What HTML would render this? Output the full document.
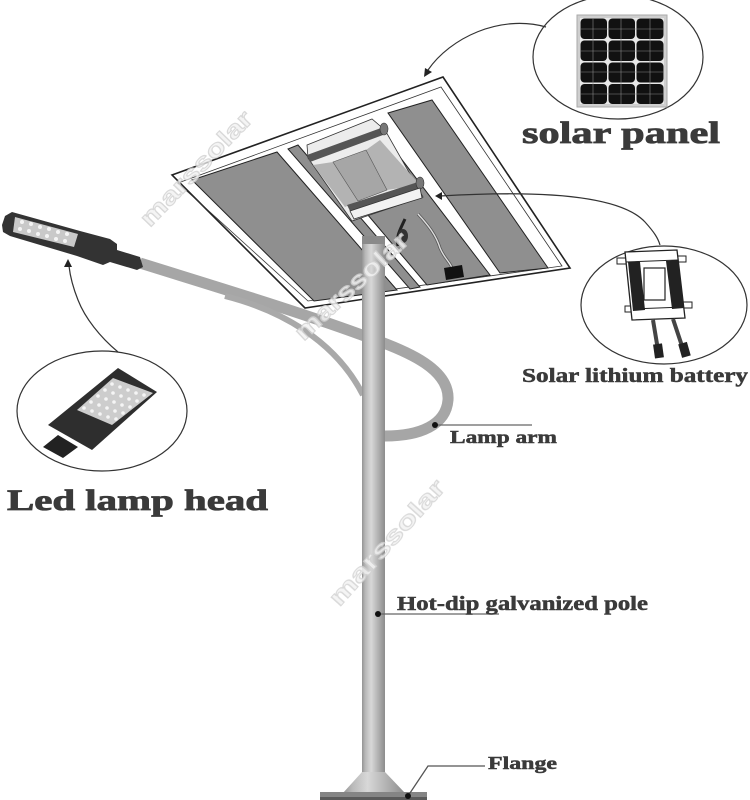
<!DOCTYPE html>
<html><head><meta charset="utf-8"><style>
html,body{margin:0;padding:0;background:#fff;}
svg{display:block;}
text{font-family:"Liberation Serif",serif;font-weight:bold;fill:#3a3a3a;}
.wm{font-family:"Liberation Sans",sans-serif;font-weight:bold;fill:#f3f3f3;stroke:#d2d2d2;stroke-width:1.1;}
</style></head><body>
<svg width="750" height="800" viewBox="0 0 750 800" xmlns="http://www.w3.org/2000/svg">
<defs>
<linearGradient id="pole" x1="0" x2="1" y1="0" y2="0">
<stop offset="0" stop-color="#949494"/><stop offset="0.15" stop-color="#b9b9b9"/>
<stop offset="0.4" stop-color="#d8d8d8"/><stop offset="0.7" stop-color="#b2b2b2"/>
<stop offset="1" stop-color="#8c8c8c"/></linearGradient>
</defs>

<!-- Solar panel -->
<polygon points="172,175 443,77 570,268 305,308" fill="#fff" stroke="#222" stroke-width="1.6"/>
<polygon points="178,183 441,87 562,266 308,301" fill="none" stroke="#333" stroke-width="0.8"/>
<polygon points="192,180 277,152 397,290 314,301" fill="#8f8f8f" stroke="#222" stroke-width="1"/>
<polygon points="288,149 298,145 420,287 410,289" fill="#8f8f8f" stroke="#222" stroke-width="1"/>
<polygon points="313,150 377,127 490,275 427,285" fill="#8f8f8f" stroke="#222" stroke-width="1"/>
<polygon points="388,113 432,100 548,268 500,273" fill="#8f8f8f" stroke="#222" stroke-width="1"/>

<!-- controller -->
<polygon points="307,145 372,119 385,130 423,197 352,221 308,158" fill="#ececec" stroke="#333" stroke-width="0.8"/>
<polygon points="313,165 333,162 358,201 345,207" fill="#b3b3b3"/>
<polygon points="366,150 380,140 420,185 387,190" fill="#b3b3b3"/>
<polygon points="333,162 366,150 387,190 358,201" fill="#a6a6a6" stroke="#555" stroke-width="0.6"/>
<polygon points="307,155 381,128 383,135 310,162" fill="#555"/>
<ellipse cx="384" cy="129" rx="4" ry="6" fill="#777" stroke="#333" stroke-width="0.6"/>
<polygon points="347,205 418,182 420,188 350,211" fill="#555"/>
<ellipse cx="420" cy="183" rx="4" ry="6" fill="#777" stroke="#333" stroke-width="0.6"/>
<polygon points="350,211 420,188 422,198 354,219" fill="#f2f2f2" stroke="#333" stroke-width="0.8"/>
<path d="M405,219 C400,230 396,236 398,246" stroke="#222" stroke-width="3" fill="none"/>
<ellipse cx="403" cy="236" rx="5" ry="7" fill="#333"/>
<path d="M418,214 C428,225 436,235 440,248 C444,258 450,262 452,268" stroke="#555" stroke-width="3" fill="none"/>
<path d="M418,214 C428,225 436,235 440,248 C444,258 450,262 452,268" stroke="#ddd" stroke-width="1.4" fill="none"/>
<polygon points="444,268 462,265 464,277 446,280" fill="#111"/>

<!-- arms -->
<path d="M140,263 C220,288 300,312 370,338 C410,352 450,370 448,400 C446,425 420,436 385,436" stroke="#a6a6a6" stroke-width="11" fill="none"/>
<path d="M225,296 C280,310 335,340 363,395" stroke="#a9a9a9" stroke-width="6" fill="none"/>

<!-- lamp head -->
<polygon points="2,225 5,216 12,212 80,231 110,239 117,244 117,250 140,257 143,267 137,270 110,262 103,265 77,256 10,236 3,232" fill="#333"/>
<polygon points="15,217 78,234 74,247 13,232" fill="#c9c9c9"/>
<g fill="#f4f4f4">
<circle cx="22" cy="222" r="2"/><circle cx="31" cy="224" r="2"/><circle cx="40" cy="227" r="2"/><circle cx="49" cy="229" r="2"/><circle cx="58" cy="232" r="2"/><circle cx="67" cy="234" r="2"/>
<circle cx="20" cy="229" r="2"/><circle cx="29" cy="231" r="2"/><circle cx="38" cy="234" r="2"/><circle cx="47" cy="236" r="2"/><circle cx="56" cy="239" r="2"/><circle cx="65" cy="241" r="2"/>
</g>

<!-- pole -->
<rect x="362" y="236" width="23" height="558" fill="url(#pole)"/>
<rect x="362" y="236" width="23" height="8" fill="#8a8a8a"/>
<polygon points="343,793 362,772 385,772 405,793" fill="url(#pole)"/>
<rect x="320" y="792" width="107" height="8" fill="#858585"/>
<rect x="320" y="797" width="107" height="3" fill="#5a5a5a"/>

<!-- Solar panel inset -->
<ellipse cx="618" cy="57" rx="85" ry="62" fill="#fff" stroke="#333" stroke-width="1.2"/>
<rect x="577" y="15" width="90" height="92" fill="#cfcfcf" stroke="#aaa" stroke-width="1"/>
<rect x="580" y="18" width="84" height="86" fill="#e8e8e8"/>
<g fill="#111">
<rect x="580.5" y="18.5" width="26.5" height="20.5" rx="4"/><rect x="608.5" y="18.5" width="26.5" height="20.5" rx="4"/><rect x="636.5" y="18.5" width="27" height="20.5" rx="4"/>
<rect x="580.5" y="40.5" width="26.5" height="20.5" rx="4"/><rect x="608.5" y="40.5" width="26.5" height="20.5" rx="4"/><rect x="636.5" y="40.5" width="27" height="20.5" rx="4"/>
<rect x="580.5" y="62.5" width="26.5" height="20" rx="4"/><rect x="608.5" y="62.5" width="26.5" height="20" rx="4"/><rect x="636.5" y="62.5" width="27" height="20" rx="4"/>
<rect x="580.5" y="84" width="26.5" height="20" rx="4"/><rect x="608.5" y="84" width="26.5" height="20" rx="4"/><rect x="636.5" y="84" width="27" height="20" rx="4"/>
</g>
<g stroke="#888" stroke-width="0.6">
<line x1="593" y1="18" x2="593" y2="104"/><line x1="621" y1="18" x2="621" y2="104"/><line x1="650" y1="18" x2="650" y2="104"/>
<line x1="580" y1="29" x2="664" y2="29"/><line x1="580" y1="51" x2="664" y2="51"/><line x1="580" y1="72" x2="664" y2="72"/><line x1="580" y1="94" x2="664" y2="94"/>
</g>

<!-- Battery inset -->
<ellipse cx="664" cy="305" rx="83" ry="59" fill="#fff" stroke="#333" stroke-width="1.2"/>
<rect x="617" y="258" width="9" height="6" fill="#fff" stroke="#222" stroke-width="1"/>
<rect x="677" y="256" width="9" height="6" fill="#fff" stroke="#222" stroke-width="1"/>
<rect x="625" y="306" width="9" height="6" fill="#fff" stroke="#222" stroke-width="1"/>
<rect x="683" y="302" width="9" height="6" fill="#fff" stroke="#222" stroke-width="1"/>
<polygon points="625,252 677,250 685,318 632,320" fill="#fff" stroke="#222" stroke-width="1.3"/>
<polygon points="628,262 640,262 645,310 633,311" fill="#222"/>
<polygon points="666,261 678,260 684,308 672,309" fill="#222"/>
<line x1="626" y1="262" x2="678" y2="260" stroke="#222" stroke-width="1"/>
<rect x="644" y="268" width="21" height="32" fill="#fff" stroke="#222" stroke-width="1.2"/>
<line x1="633" y1="309" x2="684" y2="307" stroke="#222" stroke-width="1"/>
<line x1="653" y1="320" x2="659" y2="356" stroke="#444" stroke-width="4"/>
<line x1="673" y1="319" x2="685" y2="355" stroke="#444" stroke-width="4"/>
<rect x="654" y="344" width="9" height="14" fill="#222" transform="rotate(-8 658 351)"/>
<rect x="680" y="343" width="9" height="14" fill="#222" transform="rotate(-16 684 350)"/>

<!-- LED inset -->
<ellipse cx="102" cy="411" rx="85" ry="60" fill="#fff" stroke="#333" stroke-width="1.2"/>
<polygon points="43,447 58,435 78,447 63,458" fill="#222"/>
<polygon points="48,425 118,368 157,392 92,450" fill="#2e2e2e"/>
<polygon points="77,410 113,378 153,393 112,425" fill="#cdcdcd"/>
<g fill="#f5f5f5">
<circle cx="112" cy="384" r="1.8"/><circle cx="120" cy="387" r="1.8"/><circle cx="128" cy="390" r="1.8"/><circle cx="136" cy="393" r="1.8"/><circle cx="144" cy="395" r="1.8"/>
<circle cx="105" cy="390" r="1.8"/><circle cx="113" cy="393" r="1.8"/><circle cx="121" cy="396" r="1.8"/><circle cx="129" cy="399" r="1.8"/><circle cx="137" cy="401" r="1.8"/>
<circle cx="98" cy="396" r="1.8"/><circle cx="106" cy="399" r="1.8"/><circle cx="114" cy="402" r="1.8"/><circle cx="122" cy="405" r="1.8"/><circle cx="130" cy="407" r="1.8"/>
<circle cx="91" cy="402" r="1.8"/><circle cx="99" cy="405" r="1.8"/><circle cx="107" cy="408" r="1.8"/><circle cx="115" cy="411" r="1.8"/><circle cx="123" cy="413" r="1.8"/>
<circle cx="84" cy="408" r="1.8"/><circle cx="92" cy="411" r="1.8"/><circle cx="100" cy="414" r="1.8"/><circle cx="108" cy="417" r="1.8"/><circle cx="116" cy="419" r="1.8"/>
</g>

<!-- connectors -->
<path d="M546,27 C500,14 450,38 428,70" stroke="#333" stroke-width="1.2" fill="none"/>
<polygon points="424,77 425,68 432,72" fill="#222"/>
<path d="M440,196 C540,190 620,195 645,222 C654,232 658,238 660,245" stroke="#333" stroke-width="1.2" fill="none"/>
<polygon points="435,196 442,192 442,200" fill="#222"/>
<path d="M118,352 C100,337 85,318 78,300 C72,285 70,275 69,266" stroke="#333" stroke-width="1.2" fill="none"/>
<polygon points="68,259 64,267 72,267" fill="#222"/>
<line x1="435" y1="425" x2="532" y2="425" stroke="#666" stroke-width="1.3"/>
<circle cx="435" cy="425" r="3" fill="#111"/>
<line x1="378" y1="614" x2="499" y2="614" stroke="#666" stroke-width="1.3"/>
<circle cx="378" cy="614" r="3" fill="#111"/>
<polyline points="408,796 428,766 485,766" stroke="#555" stroke-width="1.3" fill="none"/>
<circle cx="408" cy="796" r="3" fill="#111"/>

<!-- labels -->
<text x="522" y="143" font-size="31" textLength="198" lengthAdjust="spacingAndGlyphs" stroke="#3a3a3a" stroke-width="0.8">solar panel</text>
<text x="7" y="510" font-size="30" textLength="261" lengthAdjust="spacingAndGlyphs" stroke="#3a3a3a" stroke-width="0.8">Led lamp head</text>
<text x="522" y="382" font-size="20" textLength="226" lengthAdjust="spacingAndGlyphs" stroke="#3a3a3a" stroke-width="0.5">Solar lithium battery</text>
<text x="450" y="443" font-size="18" textLength="107" lengthAdjust="spacingAndGlyphs" stroke="#3a3a3a" stroke-width="0.5">Lamp arm</text>
<text x="397" y="610" font-size="20" textLength="251" lengthAdjust="spacingAndGlyphs" stroke="#3a3a3a" stroke-width="0.5">Hot-dip galvanized pole</text>
<text x="488" y="769" font-size="18" textLength="69" lengthAdjust="spacingAndGlyphs" stroke="#3a3a3a" stroke-width="0.5">Flange</text>

<!-- watermarks -->
<g opacity="0.85">
<text class="wm" font-size="24" text-anchor="middle" textLength="150" lengthAdjust="spacingAndGlyphs" transform="translate(202,174) rotate(-46)">marssolar</text>
<text class="wm" font-size="24" text-anchor="middle" textLength="146" lengthAdjust="spacingAndGlyphs" transform="translate(357,292) rotate(-43)">marssolar</text>
<text class="wm" font-size="24" text-anchor="middle" textLength="160" lengthAdjust="spacingAndGlyphs" transform="translate(393,548) rotate(-48)">marssolar</text>
</g>
</svg>
</body></html>
